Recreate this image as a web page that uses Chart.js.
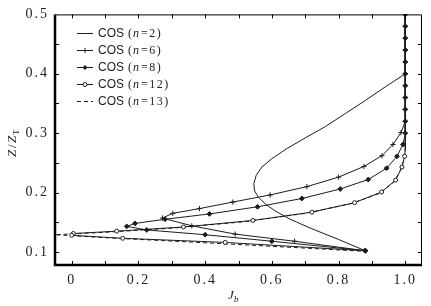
<!DOCTYPE html>
<html>
<head>
<meta charset="utf-8">
<script src="https://cdn.jsdelivr.net/npm/chart.js@4.4.1/dist/chart.umd.min.js"></script>
<style>
  html, body { margin: 0; padding: 0; background: #fff; }
  #wrap { width: 431px; height: 306px; }
</style>
</head>
<body>
<div id="wrap"><canvas id="chart"></canvas></div>
<script>
// axis ticks
const xTickValues = [0, 0.2, 0.4, 0.6, 0.8, 1.0];
const xTickLabels = ["0", "0.2", "0.4", "0.6", "0.8", "1.0"];
const xMinorTicks = [0, 0.1, 0.2, 0.3, 0.4, 0.5, 0.6, 0.7, 0.8, 0.9, 1.0];
const yTickValues = [0.1, 0.2, 0.3, 0.4, 0.5];
const yTickLabels = ["0.1", "0.2", "0.3", "0.4", "0.5"];
const yMinorTicks = [0.1, 0.15, 0.2, 0.25, 0.3, 0.35, 0.4, 0.45];

// COS (n=2) - plain line
const j2 = [1.0, 1.0, 0.94, 0.88, 0.82, 0.76, 0.70, 0.645, 0.60, 0.57, 0.553, 0.546, 0.548, 0.56, 0.58, 0.61, 0.655, 0.72, 0.80, 0.88];
const z2 = [0.5, 0.4, 0.378, 0.355, 0.333, 0.311, 0.292, 0.274, 0.257, 0.243, 0.229, 0.215, 0.203, 0.192, 0.181, 0.169, 0.155, 0.139, 0.121, 0.102];

// COS (n=6) - plus markers
const j6 = [1, 1, 1, 1, 1, 1, 1, 1, 1, 1, 0.987, 0.963, 0.93, 0.876, 0.80, 0.705, 0.595, 0.483, 0.383, 0.303, 0.272, 0.36, 0.49, 0.668, 0.88];
const z6 = [0.5, 0.48, 0.46, 0.44, 0.42, 0.40, 0.38, 0.36, 0.34, 0.32, 0.301, 0.281, 0.262, 0.244, 0.226, 0.21, 0.196, 0.184, 0.173, 0.165, 0.157, 0.144, 0.130, 0.118, 0.102];

// COS (n=8) - filled diamonds
const j8 = [1, 1, 1, 1, 1, 1, 1, 1, 1, 1, 1, 0.993, 0.975, 0.944, 0.889, 0.805, 0.69, 0.557, 0.413, 0.28, 0.19, 0.165, 0.225, 0.40, 0.60, 0.88];
const z8 = [0.5, 0.48, 0.46, 0.44, 0.42, 0.40, 0.38, 0.36, 0.34, 0.32, 0.30, 0.281, 0.261, 0.241, 0.222, 0.206, 0.19, 0.176, 0.164, 0.155, 0.148, 0.143, 0.137, 0.129, 0.118, 0.102];

// COS (n=12) - open circles (first two points have no marker)
const j12 = [1, 1, 0.998, 0.99, 0.971, 0.929, 0.848, 0.72, 0.543, 0.335, 0.135, 0.005, 0.0, 0.153, 0.46, 0.88];
const z12 = [0.5, 0.275, 0.261, 0.243, 0.221, 0.201, 0.183, 0.167, 0.153, 0.142, 0.135, 0.131, 0.128, 0.123, 0.116, 0.102];

// COS (n=13) - dashed
const j13 = [1, 1, 0.997, 0.987, 0.965, 0.92, 0.835, 0.70, 0.52, 0.30, 0.10, -0.05, 0.1, 0.45, 0.88];
const z13 = [0.5, 0.275, 0.258, 0.239, 0.217, 0.198, 0.181, 0.165, 0.151, 0.140, 0.133, 0.129, 0.124, 0.114, 0.101];

const labels = ["COS (n=2)", "COS (n=6)", "COS (n=8)", "COS (n=12)", "COS (n=13)"];
const nValues = ["2", "6", "8", "12", "13"];

const ink = "#1c1c1c";
const pts = (js, zs) => js.map((j, i) => ({ x: j, y: zs[i] }));

const serif = "'Liberation Serif', 'DejaVu Serif', serif";
const sans = "'Liberation Sans', Arial, sans-serif";

// ticks, frame, legend and axis titles
const decorations = {
    id: "decorations",
    beforeDraw(chart) {
        chart.ctx.letterSpacing = "2px";
    },
    afterDraw(chart) {
        const { ctx, chartArea: a, scales: { x, y } } = chart;
        ctx.save();
        ctx.letterSpacing = "0px";
        ctx.strokeStyle = "#000";

        // thin top / right border
        ctx.lineWidth = 1;
        ctx.beginPath();
        ctx.moveTo(a.left, a.top + 0.5);
        ctx.lineTo(a.right - 0.5, a.top + 0.5);
        ctx.lineTo(a.right - 0.5, a.bottom);
        ctx.stroke();

        // inward ticks
        const tl = 4;
        ctx.beginPath();
        xMinorTicks.forEach(v => {
            const px = Math.round(x.getPixelForValue(v)) + 0.5;
            ctx.moveTo(px, a.bottom); ctx.lineTo(px, a.bottom - tl);
            ctx.moveTo(px, a.top); ctx.lineTo(px, a.top + tl);
        });
        yMinorTicks.forEach(v => {
            const py = Math.round(y.getPixelForValue(v)) + 0.5;
            ctx.moveTo(a.left, py); ctx.lineTo(a.left + tl, py);
            ctx.moveTo(a.right, py); ctx.lineTo(a.right - tl, py);
        });
        ctx.stroke();

        // thick left / bottom axes
        ctx.lineWidth = 2.5;
        ctx.beginPath();
        ctx.moveTo(a.left, a.top);
        ctx.lineTo(a.left, a.bottom);
        ctx.lineTo(a.right, a.bottom);
        ctx.stroke();

        // legend
        const ds = chart.data.datasets;
        ctx.fillStyle = ink;
        ctx.textBaseline = "middle";
        ds.forEach((d, i) => {
            const ly = 33 + i * 17;
            ctx.strokeStyle = ink;
            ctx.lineWidth = 1;
            ctx.setLineDash(d.borderDash || []);
            ctx.beginPath();
            ctx.moveTo(77, ly + 0.5); ctx.lineTo(93, ly + 0.5);
            ctx.stroke();
            ctx.setLineDash([]);
            const mx = 85, my = ly + 0.5;
            if (d.pointStyle === "cross") {
                ctx.beginPath();
                ctx.moveTo(mx, my - 2.5); ctx.lineTo(mx, my + 2.5);
                ctx.stroke();
            } else if (d.pointStyle === "rectRot") {
                ctx.beginPath();
                ctx.moveTo(mx, my - 2.5); ctx.lineTo(mx + 2.5, my); ctx.lineTo(mx, my + 2.5); ctx.lineTo(mx - 2.5, my);
                ctx.closePath(); ctx.fill();
            } else if (d.pointStyle === "circle") {
                ctx.beginPath();
                ctx.arc(mx, my, 2, 0, Math.PI * 2);
                ctx.fillStyle = "#fff"; ctx.fill(); ctx.stroke();
                ctx.fillStyle = ink;
            }
            ctx.textAlign = "left";
            ctx.font = "12px " + sans;
            ctx.fillText("COS", 98, ly + 1);
            ctx.font = "12px " + serif;
            ctx.fillText("(", 128, ly + 1);
            ctx.font = "italic 12px " + serif;
            ctx.fillText("n", 133, ly + 1);
            ctx.font = "12px " + serif;
            ctx.letterSpacing = "1.5px";
            ctx.fillText("=" + nValues[i] + ")", 141, ly + 1);
            ctx.letterSpacing = "0px";
        });

        // x title J_b
        ctx.fillStyle = ink;
        ctx.textAlign = "left";
        ctx.textBaseline = "alphabetic";
        ctx.font = "italic 13px " + serif;
        ctx.fillText("J", 228, 299);
        ctx.font = "italic 9px " + serif;
        ctx.fillText("b", 234, 302);

        // y title Z/Z_T
        ctx.translate(16, 140);
        ctx.rotate(-Math.PI / 2);
        ctx.font = "italic 13px " + serif;
        ctx.fillText("Z", -17, 0);
        ctx.font = "13px " + serif;
        ctx.fillText("/", -8, 0);
        ctx.font = "italic 13px " + serif;
        ctx.fillText("Z", -3, 0);
        ctx.font = "9px " + serif;
        ctx.fillText("T", 5, 3);
        ctx.restore();
    }
};

const ctx = document.getElementById("chart").getContext("2d");
const chart = new Chart(ctx, {
    type: "scatter",
    data: {
        datasets: [
            {
                label: labels[0],
                data: pts(j2, z2),
                showLine: true,
                borderColor: ink,
                borderWidth: 1,
                pointRadius: 0,
                tension: 0
            },
            {
                label: labels[1],
                data: pts(j6, z6),
                showLine: true,
                borderColor: ink,
                borderWidth: 1,
                pointStyle: "cross",
                pointRadius: 2.6,
                pointBorderWidth: 1,
                tension: 0
            },
            {
                label: labels[2],
                data: pts(j8, z8),
                showLine: true,
                borderColor: ink,
                backgroundColor: ink,
                borderWidth: 1,
                pointStyle: "rectRot",
                pointRadius: 2.4,
                pointBorderWidth: 1,
                tension: 0
            },
            {
                label: labels[3],
                data: pts(j12, z12),
                showLine: true,
                borderColor: ink,
                backgroundColor: "#fff",
                borderWidth: 1,
                pointStyle: "circle",
                pointRadius: c => (c.dataIndex < 2 ? 0 : 2),
                pointBorderWidth: 1,
                tension: 0
            },
            {
                label: labels[4],
                data: pts(j13, z13),
                showLine: true,
                borderColor: ink,
                borderWidth: 1,
                borderDash: [4, 3],
                pointRadius: 0,
                tension: 0
            }
        ]
    },
    options: {
        responsive: true,
        maintainAspectRatio: false,
        animation: false,
        layout: { padding: { top: 13, right: 9, left: 0, bottom: 0 } },
        plugins: {
            legend: { display: false },
            tooltip: { enabled: false }
        },
        scales: {
            x: {
                type: "linear",
                min: -0.05,
                max: 1.05,
                afterBuildTicks: s => { s.ticks = xTickValues.map(v => ({ value: v })); },
                afterFit: s => { s.height = 41; },
                grid: { display: false, drawTicks: false },
                border: { display: false },
                ticks: {
                    padding: 7,
                    color: ink,
                    font: { family: serif, size: 14 },
                    maxRotation: 0,
                    callback: v => xTickLabels[xTickValues.findIndex(t => Math.abs(t - v) < 1e-9)]
                }
            },
            y: {
                type: "linear",
                min: 0.078,
                max: 0.5,
                afterBuildTicks: s => { s.ticks = yTickValues.map(v => ({ value: v })); },
                afterFit: s => { s.width = 55; },
                grid: { display: false, drawTicks: false },
                border: { display: false },
                ticks: {
                    padding: 6,
                    color: ink,
                    font: { family: serif, size: 14 },
                    callback: v => yTickLabels[yTickValues.findIndex(t => Math.abs(t - v) < 1e-9)]
                }
            }
        }
    },
    plugins: [decorations]
});
</script>
</body>
</html>
